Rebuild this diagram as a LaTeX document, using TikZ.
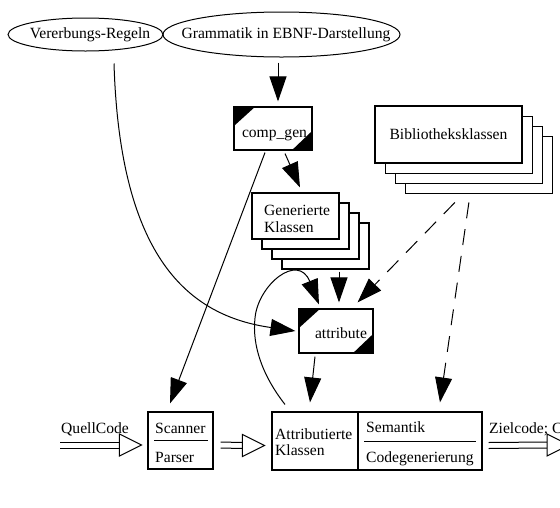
\documentclass[tikz,border=0pt]{standalone}
\usepackage{fontspec}
\setmainfont{Liberation Serif}
\usetikzlibrary{shapes.geometric,arrows.meta,calc}
\newcommand\dblarr[2]{%
  \draw[line width=1pt] ($(#1)+(0,-3)$) -- ($(#2)+(-22,-3)$)
                        ($(#1)+(0,3)$) -- ($(#2)+(-22,3)$);
  \draw[line width=1pt,fill=white] ($(#2)+(-22,-11)$) -- (#2) -- ($(#2)+(-22,11)$) -- cycle;}
\newcommand\flagcorners[1]{%
  \fill[black] (#1.north west) -- ([xshift=22pt]#1.north west) -- ([yshift=-20pt]#1.north west) -- cycle;
  \fill[black] (#1.south east) -- ([xshift=-21pt]#1.south east) -- ([yshift=20pt]#1.south east) -- cycle;}
\begin{document}
\begin{tikzpicture}[x=1pt,y=-1pt,
  every node/.style={font=\fontsize{15.6}{17}\selectfont},
  box/.style={draw,line width=1.1pt,fill=white,inner sep=0pt},
  oval/.style={draw,ellipse,line width=1pt,inner sep=0pt},
  txt/.style={inner sep=0pt,anchor=base west},
  ctxt/.style={inner sep=0pt,anchor=base},
  arr/.style={line width=1pt,-{Triangle[length=25pt,width=17pt]}},
  darr/.style={arr,dash pattern=on 16pt off 11pt}]
\useasboundingbox (0,0) rectangle (560,507);

% top ellipses
\node[oval,minimum width=155pt,minimum height=33pt] (vr) at (85.5,34.5) {};
\node[ctxt] (vrt) at (90,38) {Vererbungs-Regeln};
\node[oval,minimum width=237pt,minimum height=45pt] (gr) at (281.5,34.5) {};
\node[ctxt] (grt) at (286,38) {Grammatik in EBNF-Darstellung};

% comp_gen
\node[box,minimum width=78pt,minimum height=43pt] (cg) at (273,128.5) {};
\flagcorners{cg}
\node[ctxt] (cgt) at (274.5,137) {comp\_gen};

% Generierte Klassen stack
\foreach \i in {3,2,1}
  \node[box,minimum width=87pt,minimum height=46pt] (gk\i) at (295.5+10*\i,216+10*\i) {};
\node[box,minimum width=87pt,minimum height=46pt] (gk) at (295.5,216) {};
\node[txt] (gkt1) at (264,215) {Generierte};
\node[txt] (gkt2) at (264,232) {Klassen};

% Bibliotheksklassen stack
\foreach \i in {3,2,1}
  \node[box,minimum width=147pt,minimum height=57pt] (bk\i) at (448.5+10.3*\i,134.5+10.3*\i) {};
\node[box,minimum width=147pt,minimum height=57pt] (bk) at (448.5,134.5) {Bibliotheksklassen};

% attribute
\node[box,minimum width=74pt,minimum height=44pt] (attb) at (336,331) {};
\flagcorners{attb}
\node[ctxt] (att) at (341,338) {attribute};

% bottom row
\node[box,minimum width=65pt,minimum height=57pt] (scan) at (180.5,440.5) {};
\node[txt] (scant) at (155,433) {Scanner};
\node[txt] (part) at (155,462) {Parser};
\draw[line width=1pt] ([xshift=7pt]scan.west) -- ([xshift=-6pt]scan.east);

\node[box,minimum width=86pt,minimum height=58pt] (attk) at (315,441) {};
\node[txt] (attk1) at (275,439) {Attributierte};
\node[txt] (attk2) at (275,455) {Klassen};

\node[box,minimum width=124pt,minimum height=58pt] (sem) at (420,441) {};
\node[txt] (semt) at (366,432) {Semantik};
\node[txt] (codt) at (366,462) {Codegenerierung};
\draw[line width=1pt] ([xshift=7pt]sem.west) -- ([xshift=-7pt]sem.east);

% double arrows
\coordinate (q0) at (60,445);
\coordinate (q1) at ([xshift=-6pt,yshift=-4.5pt]scan.west);
\coordinate (s0) at ([xshift=7pt,yshift=-4.5pt]scan.east);
\coordinate (s1) at ([xshift=-7pt,yshift=-4.5pt]attk.west);
\coordinate (z0) at ([xshift=6pt,yshift=-4.5pt]sem.east);
\coordinate (z1) at (569,445);
\dblarr{q0}{q1}
\dblarr{s0}{s1}
\dblarr{z0}{z1}
\node[txt] (ql) at (61,433) {QuellCode};
\node[txt] (zl) at (489,433) {Zielcode; C};

% connectors
\draw[arr] ([xshift=-3.5pt,yshift=-5pt]gr.south) -- ([xshift=5pt,yshift=5pt]cg.north);
\draw[arr] ([xshift=12pt,yshift=-3pt]cg.south) -- ([xshift=4.5pt,yshift=5pt]gk.north);
\draw[arr] ([xshift=-8pt,yshift=-2pt]cg.south) -- ([xshift=-10.5pt,yshift=8pt]scan.north);
\coordinate (vrs) at ([xshift=28.5pt,yshift=-12pt]vr.south);
\draw[arr] (vrs) .. controls (120,260) and (190,316) .. ([xshift=-3pt]attb.west);
\coordinate (lp) at ([xshift=-30pt,yshift=7pt]attk.north);
\draw[arr] (lp) .. controls (262,375) and (252,345) .. (255,318)
   .. controls (258,285) and (298,252) .. ([xshift=-17pt,yshift=4pt]attb.north);
\draw[arr] ([xshift=13.5pt,yshift=-2pt]gk3.south) -- ([xshift=3pt,yshift=6pt]attb.north);
\draw[darr] ([xshift=-24.5pt,yshift=-8pt]bk3.south) -- ([xshift=-16pt,yshift=6pt]attb.north east);
\draw[darr] ([xshift=-10.5pt,yshift=-8pt]bk3.south) -- ([xshift=20pt,yshift=9pt]sem.north);
\draw[arr] ([xshift=-21pt,yshift=-3pt]attb.south) -- ([xshift=-5pt,yshift=9pt]attk.north);
\end{tikzpicture}
\end{document}
